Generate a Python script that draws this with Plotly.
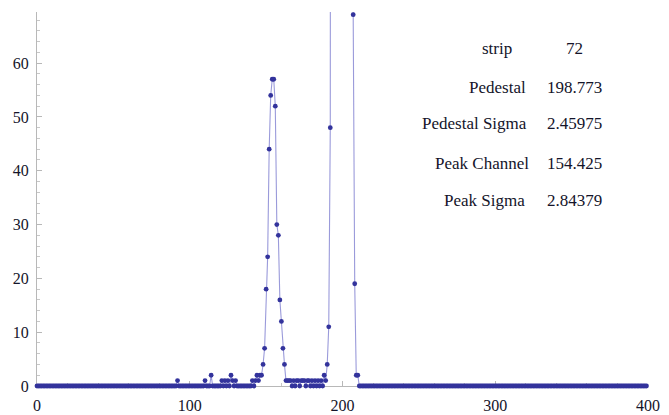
import plotly.graph_objects as go

# ---------------- data ----------------
channels = list(range(400))

# counts that are not zero; every other channel reads 0
nonzero_counts = {
    92: 1, 110: 1, 114: 2, 121: 1, 123: 1, 125: 1, 127: 2, 128: 1, 130: 1,
    141: 1, 143: 1, 144: 2, 145: 1, 146: 2, 147: 2,
    148: 4, 149: 7, 150: 18, 151: 24, 152: 44, 153: 54, 154: 57, 155: 57,
    156: 52, 157: 30, 158: 28, 159: 16, 160: 12, 161: 7, 162: 4,
    163: 1, 164: 1, 165: 1, 166: 1, 168: 1, 170: 1, 171: 1, 173: 1, 174: 1,
    175: 1, 177: 1, 178: 1, 180: 1, 182: 1, 184: 1, 186: 1, 188: 2, 189: 1,
    190: 4, 191: 11, 192: 48,
    # pedestal channels: far above the plotted range (estimated)
    193: 160, 194: 420, 195: 980, 196: 1800, 197: 2700, 198: 3300, 199: 3500,
    200: 3200, 201: 2500, 202: 1600, 203: 850, 204: 380, 205: 150, 206: 90,
    207: 69, 208: 19, 209: 2, 210: 2,
}
counts = [nonzero_counts.get(c, 0) for c in channels]

table_labels = ["strip", "Pedestal", "Pedestal Sigma", "Peak Channel", "Peak Sigma"]
table_values = ["72", "198.773", "2.45975", "154.425", "2.84379"]

x_ticks = [0, 100, 200, 300, 400]
y_ticks = [0, 10, 20, 30, 40, 50, 60]

# ---------------- layout / style ----------------
W, H = 669, 415
ML, MR, MT, MB = 37, 21, 12, 29
PW, PH = W - ML - MR, H - MT - MB

FONT = "'Liberation Serif', 'Times New Roman', Times, serif"
TXT = "#14142a"

fig = go.Figure()
fig.add_trace(go.Scatter(
    x=channels, y=counts, mode="lines+markers",
    line=dict(color="rgba(120,120,205,0.75)", width=1.1),
    marker=dict(color="#33339c", size=4.8),
    cliponaxis=False, showlegend=False, hoverinfo="x+y",
))

def px_x(p):
    return (p - ML) / PW

def px_y(p):
    return 1 - (p - MT) / PH

label_right = [514, 528, 529, 531, 527]
value_center = 574
row_y = [49, 87, 124, 163, 200]

annotations = []
for lab, val, rx, ry in zip(table_labels, table_values, label_right, row_y):
    annotations.append(dict(text=lab, x=px_x(rx), y=px_y(ry), xref="paper", yref="paper",
                            xanchor="right", yanchor="middle", showarrow=False,
                            font=dict(family=FONT, size=17, color=TXT)))
    annotations.append(dict(text=val, x=px_x(value_center), y=px_y(ry), xref="paper", yref="paper",
                            xanchor="center", yanchor="middle", showarrow=False,
                            font=dict(family=FONT, size=17, color=TXT)))

fig.update_layout(
    template="none",
    width=W, height=H,
    margin=dict(l=ML, r=MR, t=MT, b=MB, pad=0, autoexpand=False),
    paper_bgcolor="white", plot_bgcolor="white",
    font=dict(family=FONT, size=16, color=TXT),
    annotations=annotations,
    xaxis=dict(
        range=[0, 400], tickvals=x_ticks, ticktext=[str(v) for v in x_ticks],
        showgrid=False, zeroline=False, automargin=False,
        showline=True, linecolor="#b8b8b8", linewidth=1,
        ticks="inside", ticklen=5, tickcolor="#b8b8b8", tickwidth=1,
        minor=dict(ticks="inside", ticklen=3, dtick=20, tick0=0, tickcolor="#c8c8c8"),
        tickfont=dict(family=FONT, size=16, color=TXT),
        ticklabelstandoff=5,
        layer="below traces",
    ),
    yaxis=dict(
        range=[0, 69.5], tickvals=y_ticks, ticktext=[str(v) for v in y_ticks],
        showgrid=False, zeroline=False, automargin=False,
        showline=True, linecolor="#b8b8b8", linewidth=1,
        ticks="inside", ticklen=5, tickcolor="#b8b8b8", tickwidth=1,
        minor=dict(ticks="inside", ticklen=3, dtick=2, tick0=0, tickcolor="#c8c8c8"),
        tickfont=dict(family=FONT, size=16, color=TXT),
        ticklabelstandoff=4,
        layer="below traces",
    ),
)

fig.write_html(
    "out.html",
    config={"displayModeBar": False},
    post_script="document.body.style.margin='0';document.body.style.overflow='hidden';",
)
